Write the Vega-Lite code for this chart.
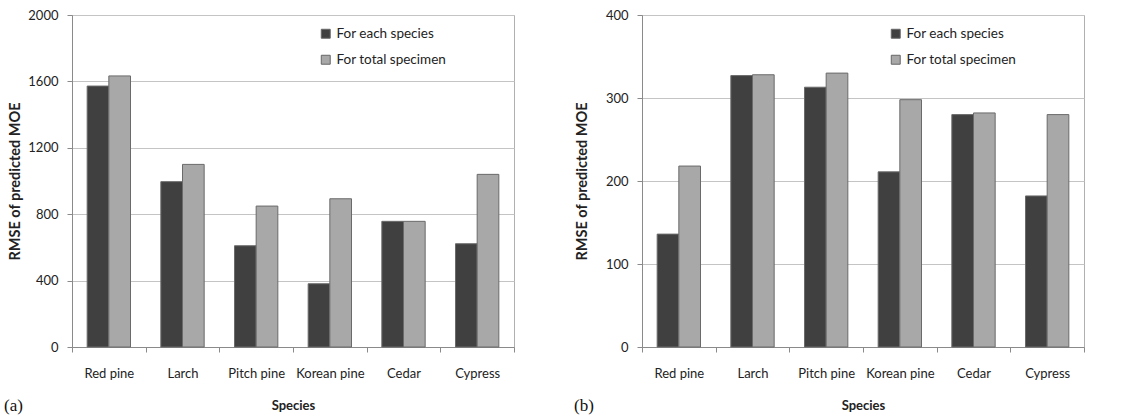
{
  "$schema": "https://vega.github.io/schema/vega-lite/v6.json",
  "padding": {"left": 3, "top": 8, "right": 4, "bottom": 2},
  "background": "white",
  "datasets": {
    "a": [
      {"species": "Red pine", "series": "For each species", "rmse": 1572},
      {"species": "Red pine", "series": "For total specimen", "rmse": 1633},
      {"species": "Larch", "series": "For each species", "rmse": 996},
      {"species": "Larch", "series": "For total specimen", "rmse": 1100},
      {"species": "Pitch pine", "series": "For each species", "rmse": 610},
      {"species": "Pitch pine", "series": "For total specimen", "rmse": 849},
      {"species": "Korean pine", "series": "For each species", "rmse": 381},
      {"species": "Korean pine", "series": "For total specimen", "rmse": 893},
      {"species": "Cedar", "series": "For each species", "rmse": 757},
      {"species": "Cedar", "series": "For total specimen", "rmse": 757},
      {"species": "Cypress", "series": "For each species", "rmse": 622},
      {"species": "Cypress", "series": "For total specimen", "rmse": 1040}
    ],
    "b": [
      {"species": "Red pine", "series": "For each species", "rmse": 136},
      {"species": "Red pine", "series": "For total specimen", "rmse": 218},
      {"species": "Larch", "series": "For each species", "rmse": 327},
      {"species": "Larch", "series": "For total specimen", "rmse": 328},
      {"species": "Pitch pine", "series": "For each species", "rmse": 313},
      {"species": "Pitch pine", "series": "For total specimen", "rmse": 330},
      {"species": "Korean pine", "series": "For each species", "rmse": 211},
      {"species": "Korean pine", "series": "For total specimen", "rmse": 298},
      {"species": "Cedar", "series": "For each species", "rmse": 280},
      {"species": "Cedar", "series": "For total specimen", "rmse": 282},
      {"species": "Cypress", "series": "For each species", "rmse": 182},
      {"species": "Cypress", "series": "For total specimen", "rmse": 280}
    ]
  },
  "config": {
    "font": "Lato",
    "view": {"stroke": "#b0b0b0", "strokeWidth": 1},
    "axis": {
      "labelFont": "Lato", "labelFontSize": 13, "labelColor": "#222",
      "titleFont": "Lato", "titleFontSize": 13, "titleFontWeight": "bold", "titleColor": "#222",
      "domainColor": "#8a8a8a", "tickColor": "#8a8a8a", "gridColor": "#c4c4c4"
    },
    "legend": {"labelFont": "Lato", "labelFontSize": 13.5, "labelColor": "#222"},
    "title": {"font": "Liberation Serif", "fontSize": 17, "fontWeight": "normal", "color": "#111"}
  },
  "spacing": 58,
  "resolve": {"legend": {"color": "independent"}},
  "hconcat": [
    {
      "data": {"name": "a"},
      "width": 442,
      "height": 332,
      "title": {"text": "(a)", "orient": "bottom", "anchor": "start", "frame": "group", "dx": -68, "offset": -14},
      "mark": {"type": "bar", "stroke": "#6a6a6a", "strokeWidth": 1},
      "encoding": {
        "x": {"field": "species", "type": "nominal", "sort": null, "title": "Species",
          "scale": {"paddingInner": 0, "paddingOuter": 0},
          "axis": {"labelAngle": 0, "tickBand": "extent", "tickSize": 5, "labelPadding": 15, "titlePadding": 19, "grid": false}},
        "xOffset": {"field": "series", "type": "nominal", "scale": {"paddingInner": 0, "paddingOuter": 0.7}},
        "y": {"field": "rmse", "type": "quantitative", "title": "RMSE of predicted MOE",
          "scale": {"domain": [0, 2000]},
          "axis": {"values": [0, 400, 800, 1200, 1600, 2000], "format": "d", "tickSize": 5, "labelPadding": 9, "titlePadding": 5, "titleFontSize": 14.5}},
        "color": {"field": "series", "type": "nominal",
          "scale": {"domain": ["For each species", "For total specimen"], "range": ["#404040", "#a8a8a8"]},
          "legend": {"title": null, "orient": "none", "legendX": 247, "legendY": 12, "symbolType": "square", "symbolSize": 80, "symbolStrokeColor": "#666", "symbolStrokeWidth": 1, "rowPadding": 11, "labelOffset": 4}}
      }
    },
    {
      "data": {"name": "b"},
      "width": 442,
      "height": 332,
      "title": {"text": "(b)", "orient": "bottom", "anchor": "start", "frame": "group", "dx": -68, "offset": -14},
      "mark": {"type": "bar", "stroke": "#6a6a6a", "strokeWidth": 1},
      "encoding": {
        "x": {"field": "species", "type": "nominal", "sort": null, "title": "Species",
          "scale": {"paddingInner": 0, "paddingOuter": 0},
          "axis": {"labelAngle": 0, "tickBand": "extent", "tickSize": 5, "labelPadding": 15, "titlePadding": 19, "grid": false}},
        "xOffset": {"field": "series", "type": "nominal", "scale": {"paddingInner": 0, "paddingOuter": 0.7}},
        "y": {"field": "rmse", "type": "quantitative", "title": "RMSE of predicted MOE",
          "scale": {"domain": [0, 400]},
          "axis": {"values": [0, 100, 200, 300, 400], "format": "d", "tickSize": 5, "labelPadding": 9, "titlePadding": 16, "titleFontSize": 14.5}},
        "color": {"field": "series", "type": "nominal",
          "scale": {"domain": ["For each species", "For total specimen"], "range": ["#404040", "#a8a8a8"]},
          "legend": {"title": null, "orient": "none", "legendX": 247, "legendY": 12, "symbolType": "square", "symbolSize": 80, "symbolStrokeColor": "#666", "symbolStrokeWidth": 1, "rowPadding": 11, "labelOffset": 4}}
      }
    }
  ]
}
